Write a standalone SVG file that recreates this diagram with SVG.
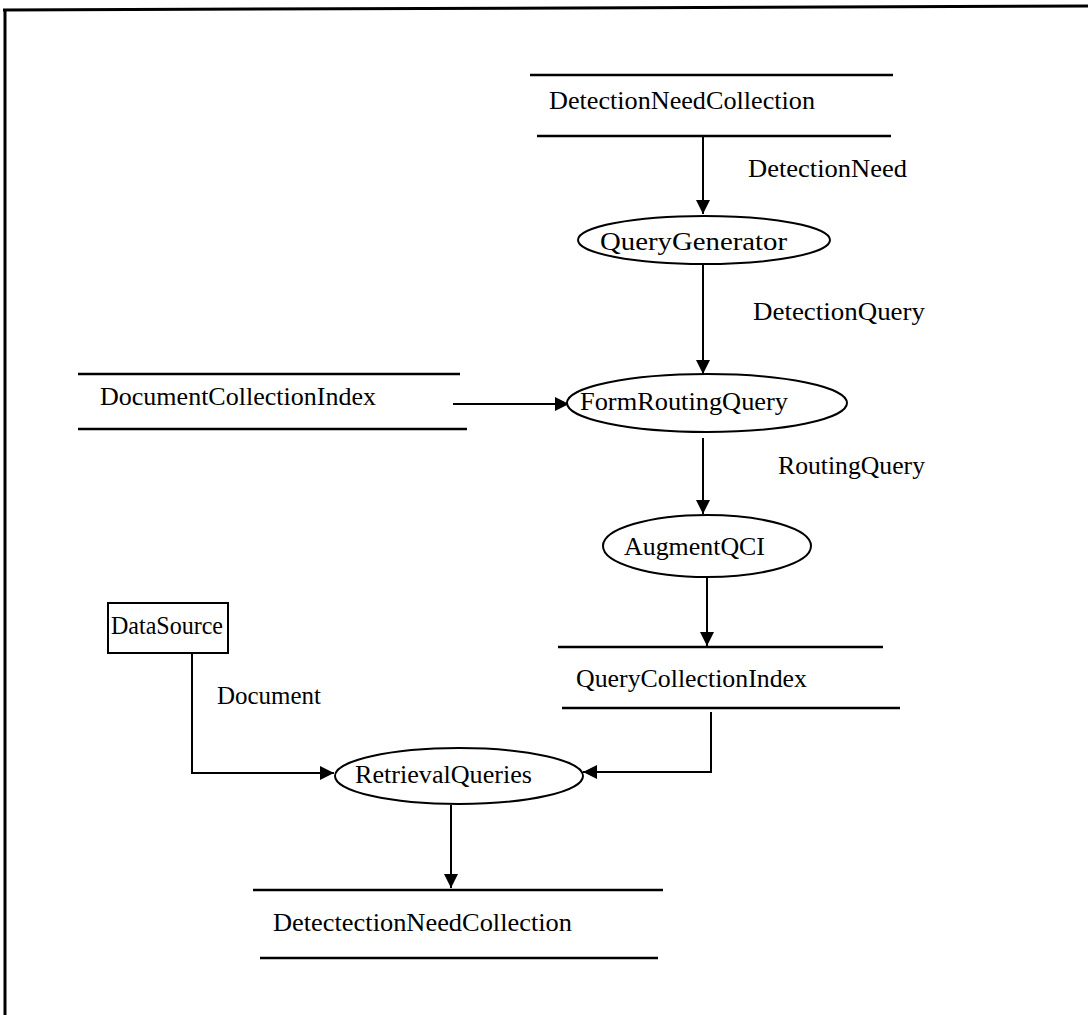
<svg xmlns="http://www.w3.org/2000/svg" width="1088" height="1015" viewBox="0 0 1088 1015">
  <style>
    .frame { stroke: #000; stroke-width: 3; fill: none; }
    .store { stroke: #000; stroke-width: 2.5; fill: none; }
    .proc { stroke: #000; stroke-width: 2; fill: #fff; }
    .ext { stroke: #000; stroke-width: 2; fill: #fff; }
    .flow { stroke: #000; stroke-width: 2; fill: none; }
    text { font-family: "Liberation Serif", "Times New Roman", serif; font-size: 26px; fill: #000; }
  </style>
  <defs>
    <marker id="arrow" markerUnits="userSpaceOnUse" markerWidth="14" markerHeight="14" viewBox="0 0 12 12" refX="12" refY="6" orient="auto">
      <path d="M0,0 L12,6 L0,12 Z" fill="#000"/>
    </marker>
  </defs>

  <rect width="1088" height="1015" fill="#fff"/>

  <!-- page frame -->
  <g id="frame">
    <line class="frame" x1="3" y1="10" x2="1088" y2="6"/>
    <line class="frame" x1="5" y1="9" x2="5" y2="1015"/>
  </g>

  <!-- connectors -->
  <g id="connectors">
    <line class="flow" x1="703" y1="136" x2="703" y2="214" marker-end="url(#arrow)"/>
    <line class="flow" x1="703" y1="264" x2="703" y2="374" marker-end="url(#arrow)"/>
    <line class="flow" x1="453" y1="404" x2="569" y2="404" marker-end="url(#arrow)"/>
    <line class="flow" x1="703" y1="438" x2="703" y2="514" marker-end="url(#arrow)"/>
    <line class="flow" x1="707" y1="577" x2="707" y2="646" marker-end="url(#arrow)"/>
    <polyline class="flow" points="711,712 711,772 583,772" marker-end="url(#arrow)"/>
    <polyline class="flow" points="192,653 192,773 334,773" marker-end="url(#arrow)"/>
    <line class="flow" x1="451" y1="805" x2="451" y2="888" marker-end="url(#arrow)"/>
    <text x="748" y="177" textLength="159" lengthAdjust="spacingAndGlyphs">DetectionNeed</text>
    <text x="753" y="320" textLength="172" lengthAdjust="spacingAndGlyphs">DetectionQuery</text>
    <text x="778" y="474" textLength="147" lengthAdjust="spacingAndGlyphs">RoutingQuery</text>
    <text x="217" y="704" textLength="104" lengthAdjust="spacingAndGlyphs">Document</text>
  </g>

  <g id="DetectionNeedCollection">
    <line class="store" x1="530" y1="75" x2="893" y2="75"/>
    <line class="store" x1="537" y1="136" x2="891" y2="136"/>
    <text x="549" y="109" textLength="266" lengthAdjust="spacingAndGlyphs">DetectionNeedCollection</text>
  </g>

  <g id="QueryGenerator">
    <ellipse class="proc" cx="704" cy="240" rx="126" ry="24"/>
    <text x="600" y="250" textLength="187" lengthAdjust="spacingAndGlyphs">QueryGenerator</text>
  </g>

  <g id="DocumentCollectionIndex">
    <line class="store" x1="78" y1="374" x2="460" y2="374"/>
    <line class="store" x1="78" y1="429" x2="467" y2="429"/>
    <text x="100" y="405" textLength="276" lengthAdjust="spacingAndGlyphs">DocumentCollectionIndex</text>
  </g>

  <g id="FormRoutingQuery">
    <ellipse class="proc" cx="707" cy="403" rx="140" ry="29"/>
    <text x="580" y="410" textLength="208" lengthAdjust="spacingAndGlyphs">FormRoutingQuery</text>
  </g>

  <g id="AugmentQCI">
    <ellipse class="proc" cx="707" cy="546" rx="104" ry="31"/>
    <text x="624" y="555" textLength="141" lengthAdjust="spacingAndGlyphs">AugmentQCI</text>
  </g>

  <g id="QueryCollectionIndex">
    <line class="store" x1="558" y1="647" x2="883" y2="647"/>
    <line class="store" x1="562" y1="708" x2="900" y2="708"/>
    <text x="576" y="687" textLength="231" lengthAdjust="spacingAndGlyphs">QueryCollectionIndex</text>
  </g>

  <g id="DataSource">
    <rect class="ext" x="108" y="603" width="120" height="50"/>
    <text x="111" y="634" textLength="112" lengthAdjust="spacingAndGlyphs">DataSource</text>
  </g>

  <g id="RetrievalQueries">
    <ellipse class="proc" cx="459" cy="776" rx="124" ry="28"/>
    <text x="355" y="783" textLength="177" lengthAdjust="spacingAndGlyphs">RetrievalQueries</text>
  </g>

  <g id="DetectectionNeedCollection">
    <line class="store" x1="253" y1="890" x2="663" y2="890"/>
    <line class="store" x1="260" y1="958" x2="658" y2="958"/>
    <text x="273" y="931" textLength="299" lengthAdjust="spacingAndGlyphs">DetectectionNeedCollection</text>
  </g>
</svg>
